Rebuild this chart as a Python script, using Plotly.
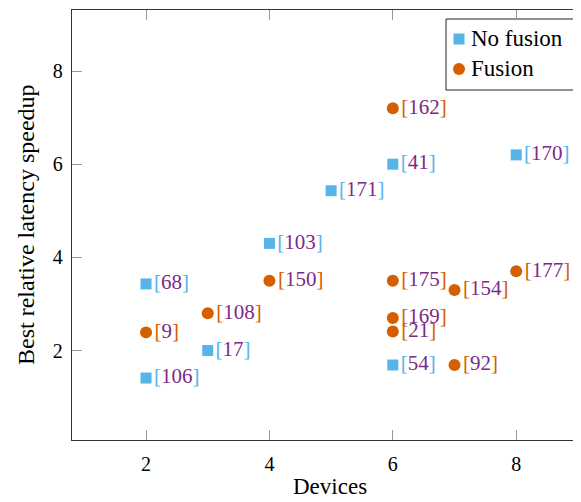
import plotly.graph_objects as go

# No fusion series
nf_devices = [2, 2, 3, 4, 5, 6, 6, 8]
nf_speedup = [3.43, 1.41, 2.0, 4.3, 5.43, 6.0, 1.69, 6.2]
nf_refs = [68, 106, 17, 103, 171, 41, 54, 170]

# Fusion series
f_devices = [2, 3, 4, 6, 6, 6, 6, 7, 7, 8]
f_speedup = [2.39, 2.8, 3.5, 7.2, 3.5, 2.7, 2.41, 3.3, 1.69, 3.7]
f_refs = [9, 108, 150, 162, 175, 169, 21, 154, 92, 177]

x_ticks = [2, 4, 6, 8]
y_ticks = [2, 4, 6, 8]
series_names = ["No fusion", "Fusion"]

CYAN = "#56B4E9"
ORANGE = "#D55E00"
PURPLE = "#7B2A87"
FONT = "Liberation Serif"

# the page body adds an 8px offset; work in page pixels and convert
OFF = 8
W, H = 581 - OFF, 502 - OFF
ML, MR, MT, MB = 72 - OFF, 0, 10 - OFF, 502 - 440
PW, PH = W - ML - MR, H - MT - MB


def px_x(p):  # page pixel x -> paper fraction
    return (p - OFF - ML) / PW


def px_y(p):  # page pixel y -> paper fraction
    return (H - MB - (p - OFF)) / PH


def labels(refs, col):
    return [f'<span style="color:{col}">[</span>{r}<span style="color:{col}">]</span>' for r in refs]


fig = go.Figure()
fig.add_trace(go.Scatter(
    x=nf_devices, y=nf_speedup, mode="markers+text", name=series_names[0],
    marker=dict(symbol="square", size=11, color=CYAN),
    text=labels(nf_refs, CYAN), textposition="middle right",
    textfont=dict(family=FONT, size=21, color=PURPLE),
    showlegend=False, cliponaxis=False,
))
fig.add_trace(go.Scatter(
    x=f_devices, y=f_speedup, mode="markers+text", name=series_names[1],
    marker=dict(symbol="circle", size=12, color=ORANGE),
    text=labels(f_refs, ORANGE), textposition="middle right",
    textfont=dict(family=FONT, size=21, color=PURPLE),
    showlegend=False, cliponaxis=False,
))

# custom legend (box + markers on an overlay axis in paper-like coordinates)
leg_x0, leg_x1, leg_y0, leg_y1 = px_x(446), px_x(578), px_y(90), px_y(19)
row_y = [px_y(39), px_y(69)]
fig.add_shape(type="rect", xref="paper", yref="paper",
              x0=leg_x0, x1=leg_x1, y0=leg_y0, y1=leg_y1,
              line=dict(color="#222222", width=1), fillcolor="white", layer="below")
fig.add_trace(go.Scatter(
    x=[px_x(459)], y=[row_y[0]], xaxis="x2", yaxis="y2", mode="markers",
    marker=dict(symbol="square", size=11, color=CYAN), showlegend=False,
    hoverinfo="skip", cliponaxis=False,
))
fig.add_trace(go.Scatter(
    x=[px_x(459)], y=[row_y[1]], xaxis="x2", yaxis="y2", mode="markers",
    marker=dict(symbol="circle", size=12, color=ORANGE), showlegend=False,
    hoverinfo="skip", cliponaxis=False,
))
for name, yy in zip(series_names, row_y):
    fig.add_annotation(x=px_x(469), y=yy, xref="paper", yref="paper",
                       text=name, showarrow=False, xanchor="left", yanchor="middle",
                       font=dict(family=FONT, size=23, color="black"))

# axis titles
fig.add_annotation(x=px_x(330), y=px_y(486), xref="paper", yref="paper",
                   text="Devices", showarrow=False, xanchor="center", yanchor="middle",
                   font=dict(family=FONT, size=23, color="black"))
fig.add_annotation(x=px_x(26), y=px_y(225), xref="paper", yref="paper",
                   text="Best relative latency speedup", showarrow=False, textangle=-90,
                   xanchor="center", yanchor="middle",
                   font=dict(family=FONT, size=24, color="black"))

axis_common = dict(
    showgrid=False, zeroline=False, showline=True, linecolor="#333333", linewidth=1.3,
    ticks="inside", ticklen=10, tickcolor="#999999", tickwidth=1,
    tickfont=dict(family=FONT, size=20, color="black"), automargin=False,
)

fig.update_layout(
    width=W, height=H,
    margin=dict(l=ML, r=MR, t=MT, b=MB),
    paper_bgcolor="white", plot_bgcolor="rgba(0,0,0,0)",
    showlegend=False,
    xaxis=dict(range=[0.8, 9.05], tickvals=x_ticks, mirror="ticks",
               ticklabelstandoff=6, **axis_common),
    yaxis=dict(range=[0.08, 9.31], tickvals=y_ticks, mirror=False,
               ticklabelstandoff=4, **axis_common),
    xaxis2=dict(range=[0, 1], domain=[0, 1], anchor="y2", overlaying="x", visible=False),
    yaxis2=dict(range=[0, 1], domain=[0, 1], anchor="x2", overlaying="y", visible=False),
)

fig.write_html("out.html")
